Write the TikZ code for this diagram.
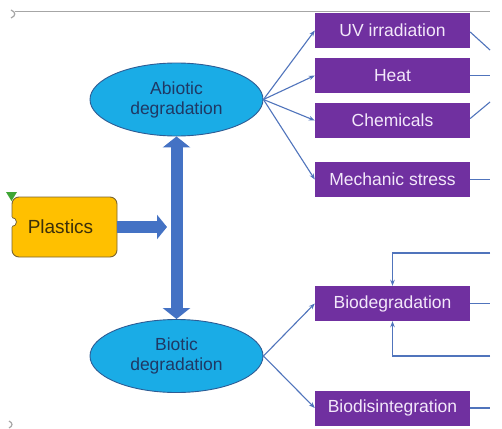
\documentclass[tikz,border=0pt]{standalone}
\usepackage{fontspec}
\setmainfont{Liberation Sans}
\usetikzlibrary{arrows.meta,shapes.geometric,calc}

\definecolor{ellfill}{HTML}{1AACE6}
\definecolor{ellline}{HTML}{2E5C94}
\definecolor{navy}{HTML}{1F3864}
\definecolor{purp}{HTML}{7030A0}
\definecolor{lav}{HTML}{F3E8FA}
\definecolor{amber}{HTML}{FFC000}
\definecolor{amberline}{HTML}{7A6530}
\definecolor{plastxt}{HTML}{3B2F0A}
\definecolor{arrblue}{HTML}{4472C4}
\definecolor{connblue}{HTML}{5074BC}
\definecolor{greytone}{HTML}{A6A6A6}
\definecolor{leaf}{HTML}{3FA535}

\begin{document}
\begin{tikzpicture}[x=1pt,y=-1pt,
  ell/.style={ellipse, draw=ellline, line width=0.9pt, fill=ellfill,
    minimum width=173pt, minimum height=73pt, inner sep=0pt,
    text=navy, align=center, font=\fontsize{17.5}{20}\selectfont},
  pbox/.style={rectangle, fill=purp, minimum width=155pt, minimum height=35pt,
    inner sep=0pt, text=lav, font=\fontsize{17.5}{20}\selectfont},
  srcbox/.style={rectangle, rounded corners=7pt, fill=amber, draw=amberline,
    line width=0.9pt, minimum width=105pt, minimum height=60pt, inner sep=0pt,
    text=plastxt, font=\fontsize{19}{22}\selectfont},
  conn/.style={draw=connblue, line width=1.1pt, -{Stealth[length=6pt,width=4.5pt]}},
  plainline/.style={draw=connblue, line width=1.1pt},
  bigarrow/.style={draw=arrblue, line width=12pt},
  frame/.style={draw=greytone, line width=1pt}
]
\useasboundingbox (0,0) rectangle (502,428);
\fill[white] (0,0) rectangle (502,428);

% slide frame remnants
\draw[frame] (15,12) -- (490,12);
\draw[frame, line width=1.2pt] (11,10) .. controls (16,12) and (16,16) .. (11,18);
\draw[frame, line width=1.2pt] (9,421) .. controls (13,423) and (13,426) .. (9,428);

% source and degradation pathways
\node[srcbox] (plastics) at (64.5,227) {\hspace*{-8pt}Plastics};
\node[ell] (abiotic) at (176.5,99.5) {Abiotic\\degradation};
\node[ell] (biotic) at (176.5,356) {Biotic\\degradation};

% notch on the left edge and marker of the source box
\coordinate (notch) at (12,222);
\filldraw[fill=white, draw=amberline, line width=0.8pt] (notch) circle (4.5pt);
\fill[white] ($(notch)+(-6,-4.8)$) rectangle ($(notch)+(-0.5,4.8)$);
\fill[leaf] (6,192) -- (17,192) -- (11.5,201) -- cycle;

% factors
\node[pbox] (uv)    at (392.5,30.5)  {UV irradiation};
\node[pbox] (heat)  at (392.5,75.5)  {Heat};
\node[pbox] (chem)  at (392.5,120.5) {Chemicals};
\node[pbox] (mech)  at (392.5,179.5) {Mechanic stress};
\node[pbox] (biodeg) at (392.5,303.5) {Biodegradation};
\node[pbox] (biodis) at (392.5,408)   {Biodisintegration};

% thick arrows
\coordinate (hub) at (167,227);
\draw[bigarrow, -{Triangle[length=10pt,width=24pt]}] (plastics.east) -- (hub);
\draw[bigarrow, {Triangle[length=11pt,width=27pt]}-{Triangle[length=11pt,width=27pt]}]
  (abiotic.south) -- (biotic.north);

% branches
\draw[conn] (abiotic.east) -- (uv.west);
\draw[conn] (abiotic.east) -- (heat.west);
\draw[conn] (abiotic.east) -- (chem.west);
\draw[conn] (abiotic.east) -- (mech.west);
\draw[conn] (biotic.east) -- (biodeg.west);
\draw[conn] (biotic.east) -- (biodis.west);

% outgoing lines on the right
\coordinate (uvR)   at (490,50);
\coordinate (heatR) at (490,75.5);
\coordinate (chemR) at (490,102);
\coordinate (mechR) at (490,179.5);
\coordinate (degR)  at (490,303.5);
\coordinate (disR)  at (490,408);
\coordinate (loopT) at (490,253);
\coordinate (loopB) at (490,356);
\draw[plainline] ([yshift=-1.5pt]uv.east) -- (uvR);
\draw[plainline] (heat.east) -- (heatR);
\draw[plainline] ([yshift=2pt]chem.east) -- (chemR);
\draw[plainline] (mech.east) -- (mechR);
\draw[plainline] (biodeg.east) -- (degR);
\draw[plainline] (biodis.east) -- (disR);
\draw[conn] (loopT) -| (biodeg.north);
\draw[conn] (loopB) -| (biodeg.south);
\end{tikzpicture}
\end{document}
